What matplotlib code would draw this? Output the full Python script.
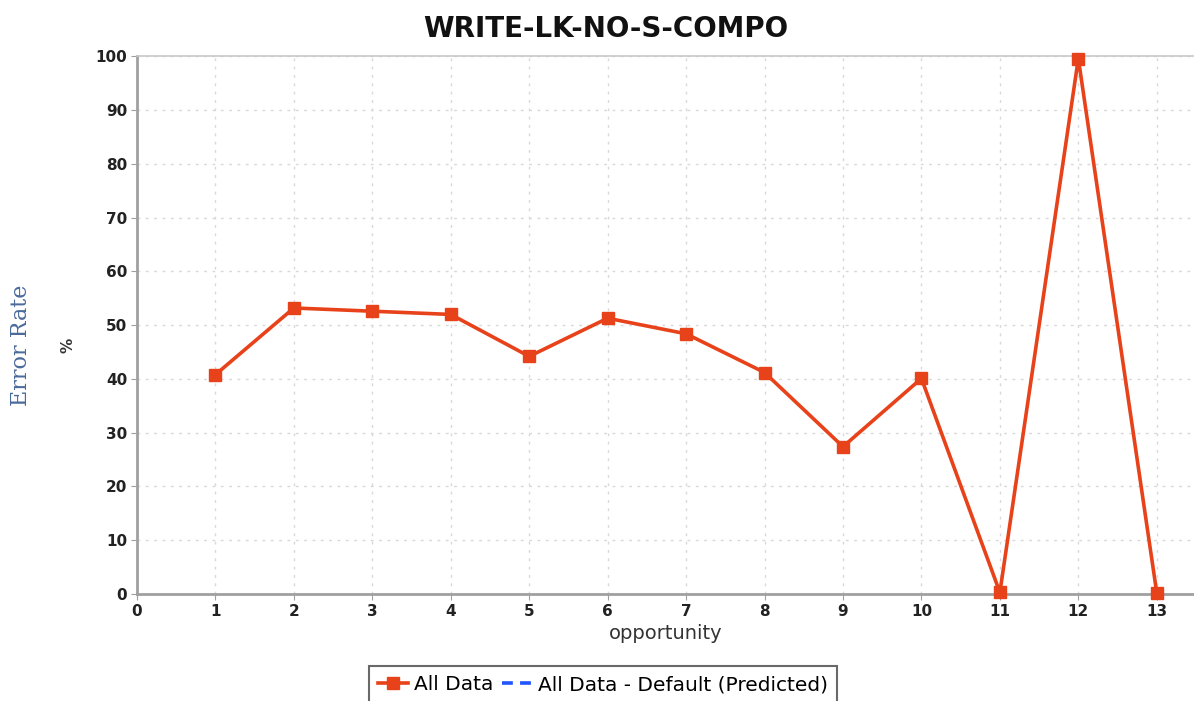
import matplotlib.pyplot as plt
from matplotlib.lines import Line2D

# opportunity vs error rate
opportunity = [1, 2, 3, 4, 5, 6, 7, 8, 9, 10, 11, 12, 13]
error_rate = [40.8, 53.2, 52.6, 52.0, 44.2, 51.3, 48.4, 41.2, 27.4, 40.1, 0.3, 99.6, 0.2]
x_ticks = list(range(0, 14))
y_ticks = list(range(0, 101, 10))

red = '#e8421a'
grey = '#a0a0a0'

fig = plt.figure(figsize=(11.94, 7.01), dpi=100)
ax = fig.add_axes([0.1147, 0.1526, 0.885, 0.767])

ax.plot(opportunity, error_rate, color=red, lw=2.6, marker='s', ms=9,
        markeredgecolor=red, clip_on=False, zorder=3)

ax.set_xlim(0, 13.47)
ax.set_ylim(0, 100)
ax.set_xticks(x_ticks)
ax.set_yticks(y_ticks)
ax.grid(True, color='#d8d8d8', ls=(0, (2, 4)), lw=1)
ax.tick_params(direction='out', length=4, color=grey, labelsize=11,
               labelcolor='#222222', pad=3)
for lab in ax.get_xticklabels() + ax.get_yticklabels():
    lab.set_fontweight('bold')

for s in ['left', 'bottom']:
    ax.spines[s].set_color(grey)
    ax.spines[s].set_linewidth(2)
ax.spines['top'].set_color('#c8c8c8')
ax.spines['top'].set_linewidth(1.2)
ax.spines['right'].set_visible(False)

ax.set_xlabel('opportunity', fontsize=14, color='#333333', labelpad=4)
fig.text(0.507, 0.958, 'WRITE-LK-NO-S-COMPO', fontsize=20, fontweight='bold',
         color='#111111', ha='center', va='center')

fig.text(0.018, 0.508, 'Error Rate', rotation=90, color='#4a6a9a', fontsize=16,
         family='DejaVu Serif', ha='center', va='center')
fig.text(0.057, 0.508, '%', rotation=90, color='#333333', fontsize=11,
         fontweight='bold', ha='center', va='center')

handles = [
    Line2D([], [], color=red, lw=2.6, marker='s', ms=8),
    Line2D([], [], color='#2255ff', lw=2.6, ls=(0, (3, 2))),
]
leg = fig.legend(handles, ['All Data', 'All Data - Default (Predicted)'],
                 loc='upper center', bbox_to_anchor=(0.505, 0.05), ncol=2,
                 fontsize=14.5, frameon=True, fancybox=False, handlelength=1.5,
                 handletextpad=0.3, columnspacing=0.4, borderpad=0.45,
                 borderaxespad=0)
leg.get_frame().set_edgecolor('#444444')
leg.get_frame().set_linewidth(1.5)

fig.savefig('out.png', dpi=100)
